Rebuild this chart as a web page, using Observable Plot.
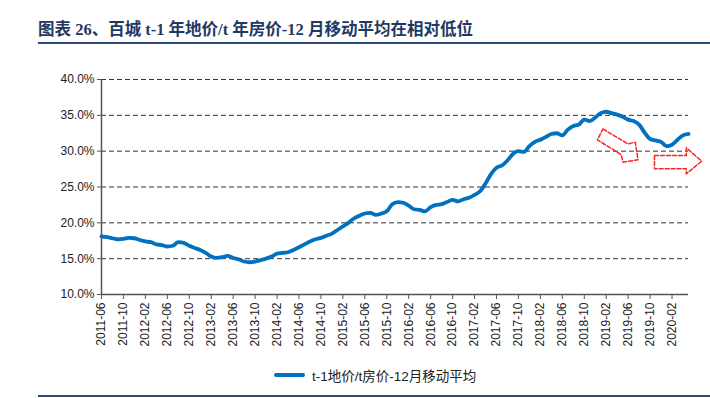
<!DOCTYPE html>
<html><head><meta charset="utf-8">
<script src="https://cdn.jsdelivr.net/npm/d3@7"></script>
<script src="https://cdn.jsdelivr.net/npm/@observablehq/plot@0.6"></script>
<style>
body{margin:0;background:#fff;}
#wrap{position:relative;width:710px;height:398px;overflow:hidden;font-family:"Liberation Sans",Arial,sans-serif;}
#title{position:absolute;left:38px;top:21px;font-family:"Liberation Serif","Noto Sans CJK SC",serif;font-weight:bold;font-size:16.5px;color:#1F3864;white-space:nowrap;line-height:18px;}
#rule1{position:absolute;left:38px;top:42px;width:672px;height:2px;background:#2E4D7B;}
#rule2{position:absolute;left:38px;top:395px;width:672px;height:2px;background:#2E4D7B;}
#chart{position:absolute;left:0;top:0;}
#legend{position:absolute;left:274px;top:365px;display:flex;align-items:center;font-size:13.5px;color:#222;font-family:"Liberation Sans","Noto Sans CJK SC",sans-serif;}
#legend .sw{width:31px;height:4px;background:#0070C0;margin-right:7px;border-radius:2px;}
</style></head>
<body>
<div id="wrap">
  <div id="title">图表 26、百城 t-1 年地价/t 年房价-12 月移动平均在相对低位</div>
  <div id="rule1"></div>
  <div id="chart"></div>
  <div id="legend"><div class="sw"></div><span>t-1地价/t房价-12月移动平均</span></div>
  <div id="rule2"></div>
</div>
<script>
// monthly series starting 2011-06 (index 0) to 2020-05 (index 107), percent
const seriesName = "t-1地价/t房价-12月移动平均";
const values = [
  18.1, 18.0, 17.85, 17.7, 17.75, 17.9, 17.85,
  17.6, 17.4, 17.3, 17.0, 16.9, 16.7, 16.8, 17.3, 17.2, 16.8, 16.5, 16.2,
  15.8, 15.3, 15.1, 15.2, 15.4, 15.1, 14.9, 14.6, 14.5, 14.6, 14.8, 15.0,
  15.3, 15.7, 15.8, 15.9, 16.2, 16.6, 17.0, 17.4, 17.7, 17.9, 18.2, 18.5,
  19.0, 19.5, 20.0, 20.6, 21.0, 21.3, 21.4, 21.1, 21.3, 21.6, 22.6, 22.9,
  22.8, 22.4, 21.9, 21.8, 21.6, 22.2, 22.5, 22.6, 22.9, 23.2, 23.0, 23.3,
  23.5, 23.9, 24.4, 25.5, 26.8, 27.7, 28.0, 28.7, 29.6, 30.0, 29.9, 30.7,
  31.3, 31.6, 32.0, 32.4, 32.5, 32.2, 33.0, 33.5, 33.7, 34.4, 34.2, 34.7,
  35.3, 35.5, 35.3, 35.1, 34.8, 34.4, 34.2, 33.7, 32.6, 31.7, 31.5, 31.3,
  30.7, 30.9, 31.6, 32.2, 32.4
];
const tickLabels = ["2011-06","2011-10","2012-02","2012-06","2012-10","2013-02","2013-06","2013-10",
  "2014-02","2014-06","2014-10","2015-02","2015-06","2015-10","2016-02","2016-06","2016-10",
  "2017-02","2017-06","2017-10","2018-02","2018-06","2018-10","2019-02","2019-06","2019-10","2020-02"];
const yTicks = [10, 15, 20, 25, 30, 35, 40];
// annotation arrows: [month index, value]
const arrowDown = [[91.4,33.1],[96.0,31.0],[97.3,31.25],[97.8,28.8],[95.1,28.46],[94.7,29.53],[90.4,31.58],[91.4,33.1]];
const arrowRight = [[100.8,29.39],[106.6,29.39],[106.6,30.47],[109.4,28.6],[106.6,26.84],[106.6,27.54],[100.8,27.54],[100.8,29.39]];

const data = values.map((v, i) => ({i, v}));
const arrows = [
  ...arrowDown.map(([i, v]) => ({i, v, k: "a"})),
  ...arrowRight.map(([i, v]) => ({i, v, k: "b"}))
];
const tickPos = tickLabels.map((_, k) => k * 4);

const chart = Plot.plot({
  width: 710, height: 398,
  marginTop: 79, marginBottom: 104, marginLeft: 101, marginRight: 22,
  style: {fontFamily: "Liberation Sans, Arial, sans-serif", fontSize: "12px", color: "#222", background: "transparent", overflow: "visible"},
  x: {type: "linear", domain: [0, values.length - 1]},
  y: {domain: [10, 40]},
  marks: [
    Plot.ruleY(yTicks.filter(d => d > 10), {stroke: "#333", strokeDasharray: "5,3", strokeWidth: 1}),
    Plot.ruleY([10], {stroke: "#555", strokeWidth: 1.5}),
    Plot.ruleX([0], {stroke: "#555", strokeWidth: 1.5}),
    Plot.axisY({ticks: yTicks, tickFormat: d => d.toFixed(1) + "%", tickSize: 4, tickPadding: 3, stroke: "#555", label: null}),
    Plot.axisX({ticks: tickPos, tickFormat: d => tickLabels[d / 4], tickRotate: -90, tickSize: 5, tickPadding: 3, stroke: "#555", label: null}),
    Plot.line(data, {x: "i", y: "v", stroke: "#0070C0", strokeWidth: 3.8, curve: "monotone-x"}),
    Plot.line(arrows, {x: "i", y: "v", z: "k", stroke: "#FF2020", strokeWidth: 1.5, strokeDasharray: "4,2", clip: false})
  ]
});
document.getElementById("chart").appendChild(chart);
</script>
</body></html>
